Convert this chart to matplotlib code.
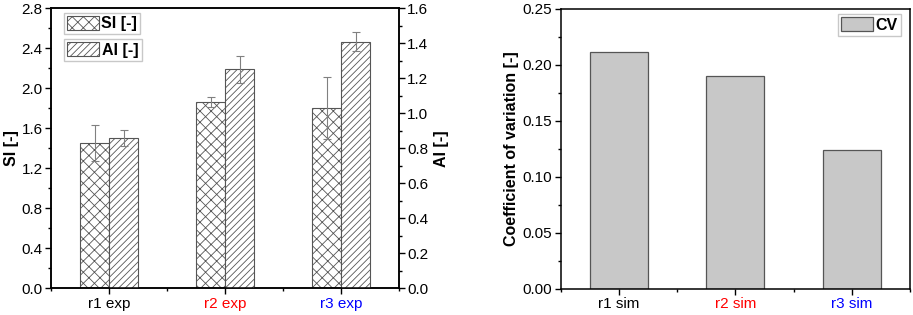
import matplotlib
matplotlib.use("Agg")
import matplotlib.pyplot as plt
import numpy as np
from matplotlib.patches import Patch
from matplotlib.ticker import MultipleLocator, FixedLocator

plt.rcParams['font.family'] = ['Liberation Sans', 'DejaVu Sans']
plt.rcParams['hatch.color'] = '#8a8a8a'
plt.rcParams['hatch.linewidth'] = 0.6

exp_labels = ['r1 exp', 'r2 exp', 'r3 exp']
sim_labels = ['r1 sim', 'r2 sim', 'r3 sim']
label_colors = ['black', 'red', 'blue']

si_values = [1.45, 1.86, 1.80]
si_errors = [0.18, 0.05, 0.31]
ai_values = [0.857, 1.251, 1.409]
ai_errors = [0.046, 0.078, 0.054]
cv_values = [0.212, 0.190, 0.124]

W, H = 913, 315
fig = plt.figure(figsize=(W / 100, H / 100), dpi=100)

def rect(l, t, r, b):
    return [l / W, 1 - b / H, (r - l) / W, (b - t) / H]

edge = '#555555'
x = np.arange(1, 4)
bw = 0.25
TICK_FS = 11
LAB_FS = 11.5

leg_kw = dict(loc='upper left', frameon=True, fancybox=False, edgecolor='#bbbbbb',
              prop={'weight': 'bold', 'size': LAB_FS}, handlelength=2.0,
              handleheight=0.95, borderpad=0.2, handletextpad=0.15, borderaxespad=0)

# Left panel
ax1 = fig.add_axes(rect(51, 8.3, 399, 288.3))
ax2 = ax1.twinx()
ax1.bar(x - bw / 2, si_values, width=bw, facecolor='white', edgecolor=edge,
        hatch='xxx', linewidth=0.8, zorder=2)
ax1.errorbar(x - bw / 2, si_values, yerr=si_errors, fmt='none', ecolor='#808080',
             elinewidth=0.8, capsize=3, capthick=0.8, zorder=3)
ax2.bar(x + bw / 2, ai_values, width=bw, facecolor='white', edgecolor=edge,
        hatch='/////', linewidth=0.8, zorder=2)
ax2.errorbar(x + bw / 2, ai_values, yerr=ai_errors, fmt='none', ecolor='#808080',
             elinewidth=0.8, capsize=3, capthick=0.8, zorder=3)

ax1.set_xlim(0.5, 3.5)
ax1.set_ylim(0, 2.8)
ax2.set_ylim(0, 1.6)
ax1.yaxis.set_major_locator(MultipleLocator(0.4))
ax1.yaxis.set_minor_locator(MultipleLocator(0.2))
ax2.yaxis.set_major_locator(MultipleLocator(0.2))
ax2.yaxis.set_minor_locator(MultipleLocator(0.1))
ax1.set_yticklabels([f'{v:.1f}' for v in ax1.get_yticks()])
ax2.set_yticklabels([f'{v:.1f}' for v in ax2.get_yticks()])
ax1.set_xticks(x)
ax1.set_xticklabels(exp_labels)
ax1.xaxis.set_minor_locator(FixedLocator([0.5, 1.5, 2.5, 3.5]))
for lbl, c in zip(ax1.get_xticklabels(), label_colors):
    lbl.set_color(c)
ax1.set_ylabel('SI [-]', fontsize=LAB_FS, fontweight='bold', labelpad=2)
ax2.set_ylabel('AI [-]', fontsize=LAB_FS, fontweight='bold', labelpad=4)

for a in (ax1, ax2):
    a.tick_params(which='major', direction='out', length=4, width=1.0, labelsize=TICK_FS, pad=2)
    a.tick_params(which='minor', direction='out', length=2.5, width=1.0)
    for s in a.spines.values():
        s.set_linewidth(1.1)

leg1 = fig.legend(handles=[Patch(facecolor='white', edgecolor=edge, hatch='xxx', linewidth=0.8)],
                  labels=['SI [-]'], bbox_to_anchor=(63.7 / W, 1 - 12.7 / H), **leg_kw)
leg2 = fig.legend(handles=[Patch(facecolor='white', edgecolor=edge, hatch='/////', linewidth=0.8)],
                  labels=['AI [-]'], bbox_to_anchor=(64.3 / W, 1 - 39 / H), **leg_kw)
leg1.get_frame().set_linewidth(1.0)
leg2.get_frame().set_linewidth(1.0)

# Right panel
ax3 = fig.add_axes(rect(560.7, 9, 910, 289))
ax3.bar(x, cv_values, width=0.5, facecolor='#c8c8c8', edgecolor=edge, linewidth=0.9, zorder=2)
ax3.set_xlim(0.5, 3.5)
ax3.set_ylim(0, 0.25)
ax3.yaxis.set_major_locator(MultipleLocator(0.05))
ax3.yaxis.set_minor_locator(MultipleLocator(0.025))
ax3.set_yticklabels([f'{v:.2f}' for v in ax3.get_yticks()])
ax3.set_xticks(x)
ax3.set_xticklabels(sim_labels)
ax3.xaxis.set_minor_locator(FixedLocator([0.5, 1.5, 2.5, 3.5]))
for lbl, c in zip(ax3.get_xticklabels(), label_colors):
    lbl.set_color(c)
ax3.set_ylabel('Coefficient of variation [-]', fontsize=LAB_FS, fontweight='bold', labelpad=3)
ax3.tick_params(which='major', direction='out', length=4, width=1.0, labelsize=TICK_FS, pad=2)
ax3.tick_params(which='minor', direction='out', length=2.5, width=1.0)
for s in ax3.spines.values():
    s.set_linewidth(1.1)
leg3 = fig.legend(handles=[Patch(facecolor='#c8c8c8', edgecolor=edge, linewidth=0.9)],
                  labels=['CV'], bbox_to_anchor=(838.3 / W, 1 - 14.3 / H), **leg_kw)
leg3.get_frame().set_linewidth(1.0)

fig.savefig('out.png', dpi=100)
